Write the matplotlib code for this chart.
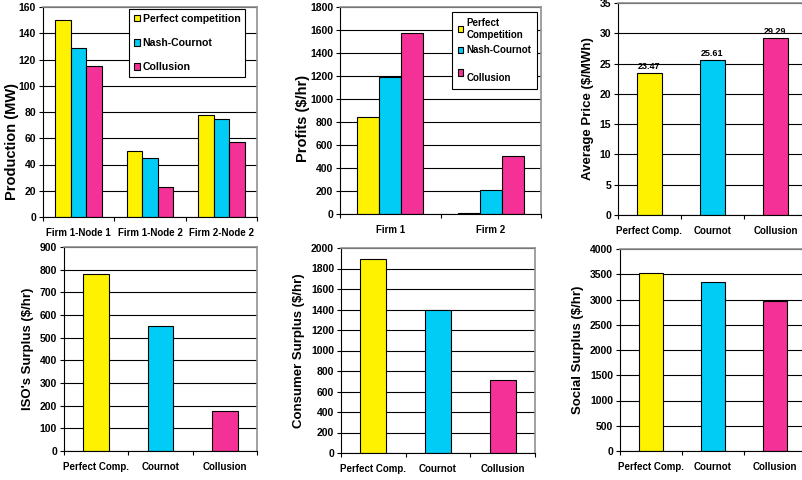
import numpy as np
import matplotlib
matplotlib.use("Agg")
import matplotlib.pyplot as plt

plt.rcParams['font.family'] = ['Liberation Sans', 'DejaVu Sans']
plt.rcParams['font.weight'] = 'bold'

scenarios = ["Perfect competition", "Nash-Cournot", "Collusion"]
colors = ["#FFF200", "#00CCF5", "#F43196"]

prod_cats = ["Firm 1-Node 1", "Firm 1-Node 2", "Firm 2-Node 2"]
prod_perfect = [150, 50, 78]
prod_cournot = [129, 45, 74.5]
prod_collusion = [115, 23, 57]

profit_cats = ["Firm 1", "Firm 2"]
profit_perfect = [840, 10]
profit_cournot = [1195, 205]
profit_collusion = [1575, 505]

short_cats = ["Perfect Comp.", "Cournot", "Collusion"]
avg_price = [23.47, 25.61, 29.29]
iso_surplus = [783, 553, 175]
consumer_surplus = [1895, 1400, 710]
social_surplus = [3530, 3355, 2965]

W, H = 803, 480
fig = plt.figure(figsize=(W / 100, H / 100), dpi=100)


def make_ax(l, r, t, b):
    return fig.add_axes([l / W, 1 - b / H, (r - l) / W, (b - t) / H])


def style(ax, ymax, step, ylabel, ncat, lsize):
    ax.set_ylim(0, ymax)
    ax.set_yticks(np.arange(0, ymax + step / 2, step))
    ax.set_xlim(0, ncat)
    ax.set_xticks(np.arange(ncat + 1), minor=False)
    ax.set_xticklabels([])
    ax.set_xticks(np.arange(ncat) + 0.5, minor=True)
    ax.tick_params(axis='x', which='major', length=3, direction='out', color='black')
    ax.tick_params(axis='x', which='minor', length=0, pad=8, labelsize=7)
    ax.tick_params(axis='y', length=3, labelsize=7.5, pad=2)
    ax.grid(axis='y', color='black', lw=0.8)
    ax.set_axisbelow(True)
    for s in ['top', 'right']:
        ax.spines[s].set_color('#909090')
        ax.spines[s].set_linewidth(1.2)
    for s in ['left', 'bottom']:
        ax.spines[s].set_color('black')
        ax.spines[s].set_linewidth(0.8)
    ax.set_ylabel(ylabel, fontsize=lsize, fontweight='bold', labelpad=4)


def grouped(ax, cats, series, width=0.218):
    x = np.arange(len(cats)) + 0.5
    for i, (vals, c) in enumerate(zip(series, colors)):
        ax.bar(x + (i - 1) * width, vals, width, color=c, edgecolor='black',
               lw=0.8, label=scenarios[i])
    ax.set_xticklabels(cats, minor=True)


def single(ax, vals, width=0.4):
    x = np.arange(len(vals)) + 0.5
    bars = ax.bar(x, vals, width, color=colors, edgecolor='black', lw=0.8)
    ax.set_xticklabels(short_cats, minor=True)
    return bars


# Production
ax1 = make_ax(43, 257, 7, 217)
style(ax1, 160, 20, "Production (MW)", 3, 10.5)
ax1.yaxis.set_label_coords(-0.11, 0.36)
grouped(ax1, prod_cats, [prod_perfect, prod_cournot, prod_collusion])
leg = ax1.legend(loc='upper right', bbox_to_anchor=(0.95, 0.995), fontsize=7.6,
                 handlelength=0.6, handleheight=0.6, handletextpad=0.25,
                 labelspacing=1.35, borderpad=0.45, borderaxespad=0.1,
                 fancybox=False, framealpha=1, edgecolor='black')
leg.get_frame().set_linewidth(0.8)

# Profits
ax2 = make_ax(340, 541, 7, 214)
style(ax2, 1800, 200, "Profits ($/hr)", 2, 10.5)
ax2.yaxis.set_label_coords(-0.15, 0.46)
grouped(ax2, profit_cats, [profit_perfect, profit_cournot, profit_collusion])
labels2 = ["Perfect\nCompetition", "Nash-Cournot", "\nCollusion"]
handles = ax2.get_legend_handles_labels()[0]
leg2 = ax2.legend(handles, labels2, loc='upper right', bbox_to_anchor=(0.985, 0.98),
                  fontsize=7, handlelength=0.6, handleheight=0.6,
                  handletextpad=0.3, labelspacing=0.6, borderpad=0.6,
                  borderaxespad=0.1, fancybox=False, framealpha=1,
                  edgecolor='black')
leg2.get_frame().set_linewidth(0.8)

# Average price
ax3 = make_ax(618, 807, 3, 215)
style(ax3, 35, 5, "Average Price ($/MWh)", 3, 9.5)
bars = single(ax3, avg_price)
ax3.bar_label(bars, labels=["%.2f" % v for v in avg_price], fontsize=6.5,
              fontweight='bold', padding=1)

# ISO surplus
ax4 = make_ax(64, 257, 247, 451)
style(ax4, 900, 100, "ISO's Surplus ($/hr)", 3, 9.5)
single(ax4, iso_surplus)

# Consumer surplus
ax5 = make_ax(341, 535, 248, 453)
style(ax5, 2000, 200, "Consumer Surplus ($/hr)", 3, 9.5)
single(ax5, consumer_surplus)

# Social surplus
ax6 = make_ax(620, 806, 249, 451)
style(ax6, 4000, 500, "Social Surplus ($/hr)", 3, 9.5)
single(ax6, social_surplus)

fig.savefig("out.png", dpi=100)
